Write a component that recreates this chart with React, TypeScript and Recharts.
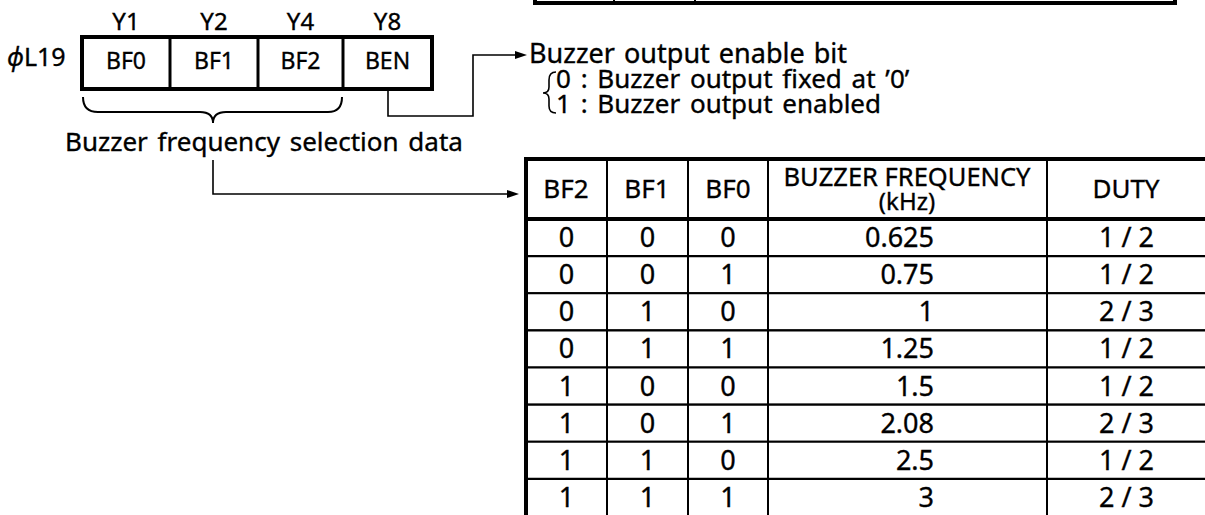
import { Bar, BarChart, LabelList, XAxis, YAxis } from "recharts";

// register ϕL19 bits
const PORT_BITS = ["Y1", "Y2", "Y4", "Y8"];
const REG_BITS = ["BF0", "BF1", "BF2", "BEN"];

// buzzer frequency table
const BF2 = [0, 0, 0, 0, 1, 1, 1, 1];
const BF1 = [0, 0, 1, 1, 0, 0, 1, 1];
const BF0 = [0, 1, 0, 1, 0, 1, 0, 1];
const FREQ_KHZ = ["0.625", "0.75", "1", "1.25", "1.5", "2.08", "2.5", "3"];
const DUTY = ["1 / 2", "1 / 2", "2 / 3", "1 / 2", "1 / 2", "2 / 3", "1 / 2", "2 / 3"];

const FONT = "'Noto Sans', 'DejaVu Sans', sans-serif";
const COL_WIDTHS = [81, 81, 80, 279, 159];
const COL_KEYS = ["bf2", "bf1", "bf0", "freq", "duty"];
const INK = { fill: "#000", stroke: "#000", strokeWidth: 0.35 };

const rows = BF2.map((v, i) => ({
  row: i,
  bf2: v,
  bf1: BF1[i],
  bf0: BF0[i],
  freq: FREQ_KHZ[i],
  duty: DUTY[i],
}));

const cellLabel = (key: string) => (props: any) => {
  const vb = props.viewBox ?? props;
  const { x, y, width, height } = vb;
  const right = key === "freq";
  return (
    <text
      x={right ? x + width - 113 : x + width / 2}
      y={y + height / 2 + 9.5}
      textAnchor={right ? "end" : "middle"}
      fontFamily={FONT}
      fontSize={27}
      {...INK}
    >
      {props.value}
    </text>
  );
};

const regX = [82, 170, 258, 343, 432];

const Diagram = () => (
  <svg
    width={1205}
    height={515}
    style={{ position: "absolute", left: 0, top: 0, pointerEvents: "none" }}
    fontFamily={FONT}
  >
    {/* bit of the table above */}
    <g stroke="#000" fill="none">
      <path d="M535,-10 V3 H1175 V-10" strokeWidth={4} />
      <line x1={614} y1={-10} x2={614} y2={3} strokeWidth={2} />
      <line x1={695} y1={-10} x2={695} y2={3} strokeWidth={2} />
    </g>

    <g {...INK}>
      {/* register */}
      <text x={7} y={66} fontSize={25}>
        <tspan fontStyle="italic">ϕ</tspan>L19
      </text>
      {PORT_BITS.map((p, i) => (
        <text key={p} x={(regX[i] + regX[i + 1]) / 2} y={30} fontSize={24} textAnchor="middle">
          {p}
        </text>
      ))}
      {REG_BITS.map((b, i) => (
        <text key={b} x={(regX[i] + regX[i + 1]) / 2} y={69} fontSize={23} textAnchor="middle">
          {b}
        </text>
      ))}
      <text x={65} y={151} fontSize={26} wordSpacing={3}>
        Buzzer frequency selection data
      </text>
      <text x={529} y={63} fontSize={27} wordSpacing={2}>
        Buzzer output enable bit
      </text>
      <text x={556} y={88} fontSize={26} wordSpacing={3}>
        0 : Buzzer output fixed at ’0’
      </text>
      <text x={556} y={113} fontSize={26} wordSpacing={3}>
        1 : Buzzer output enabled
      </text>
      <text x={566} y={198} fontSize={26} textAnchor="middle">BF2</text>
      <text x={647} y={198} fontSize={26} textAnchor="middle">BF1</text>
      <text x={728} y={198} fontSize={26} textAnchor="middle">BF0</text>
      <text x={907} y={186} fontSize={25.5} textAnchor="middle">BUZZER FREQUENCY</text>
      <text x={907} y={210} fontSize={24} textAnchor="middle">(kHz)</text>
      <text x={1126} y={198} fontSize={26} textAnchor="middle">DUTY</text>
    </g>

    <rect x={82} y={37} width={350} height={52} fill="none" stroke="#000" strokeWidth={4} />
    {regX.slice(1, 4).map((x) => (
      <line key={x} x1={x} y1={37} x2={x} y2={89} stroke="#000" strokeWidth={3} />
    ))}

    {/* brace + selection data */}
    <path
      d="M83,97 Q83,112 98,112 L200,112 Q213,112 213,123 Q213,112 226,112 L328,112 Q342,112 342,97"
      fill="none"
      stroke="#000"
      strokeWidth={2}
    />
    <path d="M213,160 V194 H510" fill="none" stroke="#000" strokeWidth={1.6} />
    <polygon points="519,194 507,190 507,198" fill="#000" />

    {/* enable bit */}
    <path d="M388,89 V116 H473 V55 H518" fill="none" stroke="#000" strokeWidth={1.6} />
    <polygon points="527,55 515,51 515,59" fill="#000" />
    <path
      d="M556,72 Q549,72 549,80 L549,87 Q549,93 543,93 Q549,93 549,99 L549,106 Q549,113 556,113"
      fill="none"
      stroke="#000"
      strokeWidth={1.6}
    />

    {/* table header */}
    <g stroke="#000">
      <line x1={524} y1={159} x2={1210} y2={159} strokeWidth={4} />
      <line x1={524} y1={219} x2={1210} y2={219} strokeWidth={4} />
      <line x1={526} y1={157} x2={526} y2={520} strokeWidth={4} />
      {[607, 688, 768, 1047].map((x) => (
        <line key={x} x1={x} y1={159} x2={x} y2={219} strokeWidth={2} />
      ))}
    </g>
  </svg>
);

export default function App() {
  return (
    <div
      style={{
        position: "absolute",
        left: 0,
        top: 0,
        width: 1205,
        height: 515,
        overflow: "hidden",
        background: "#fff",
        fontFamily: FONT,
      }}
    >
      <div style={{ position: "absolute", left: 0, top: 0 }}>
        <BarChart
          width={1260}
          height={530}
          data={rows}
          layout="vertical"
          barCategoryGap={0}
          margin={{ top: 219, left: 526, right: 54, bottom: 14 }}
        >
          <XAxis type="number" domain={[0, 680]} hide />
          <YAxis type="category" dataKey="row" hide />
          {COL_KEYS.map((key, c) => (
            <Bar
              key={key}
              dataKey={() => COL_WIDTHS[c]}
              stackId="t"
              fill="#fff"
              stroke="#000"
              strokeWidth={2}
              isAnimationActive={false}
            >
              <LabelList dataKey={key} content={cellLabel(key)} />
            </Bar>
          ))}
        </BarChart>
      </div>
      <Diagram />
    </div>
  );
}
